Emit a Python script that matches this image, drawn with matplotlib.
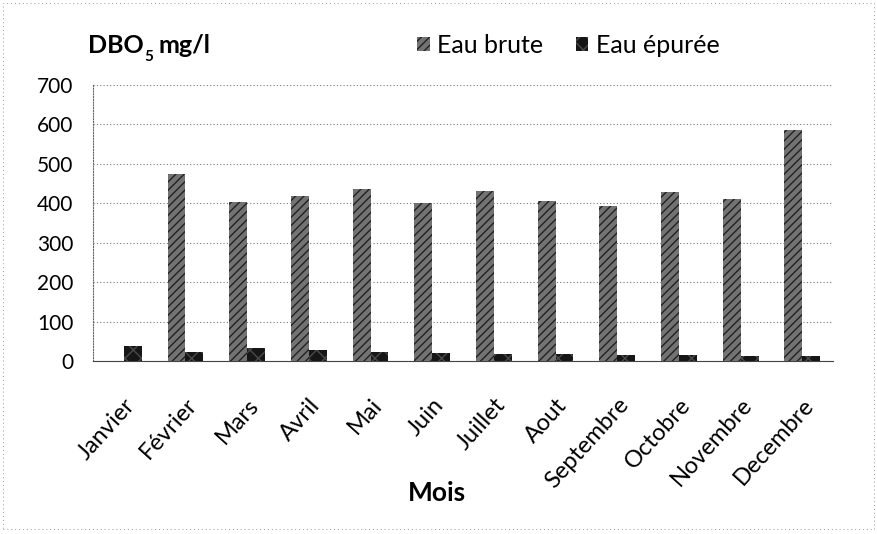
import numpy as np
import matplotlib
matplotlib.use("Agg")
import matplotlib.pyplot as plt

plt.rcParams['font.family'] = ['Lato', 'DejaVu Sans']

# ------------------- DATA -------------------
mois = ['Janvier', 'Février', 'Mars', 'Avril', 'Mai', 'Juin', 'Juillet',
        'Aout', 'Septembre', 'Octobre', 'Novembre', 'Decembre']
eau_brute = [0, 475, 402, 418, 435, 400, 430, 405, 394, 428, 411, 585]
eau_epuree = [38, 22, 33, 28, 22, 20, 17, 17, 16, 15, 13, 12]
y_ticks = [0, 100, 200, 300, 400, 500, 600, 700]
# --------------------------------------------

fig = plt.figure(figsize=(8.77, 5.34), dpi=100)
ax = fig.add_axes([0.106, 0.324, 0.844, 0.517])

x = np.arange(len(mois))
w = 0.29
ax.bar(x - w / 2, eau_brute, w, color='#737373', edgecolor='#222222',
       hatch='////', linewidth=0, label='Eau brute', zorder=3)
ax.bar(x + w / 2, eau_epuree, w, color='#161616', edgecolor='#4a4a4a',
       hatch='xx', linewidth=0, label='Eau épurée', zorder=3)

ax.set_xlim(-0.5, len(mois) - 0.5)
ax.set_ylim(0, 700)
ax.set_yticks(y_ticks)
ax.set_yticklabels([str(v) for v in y_ticks], fontsize=15)
ax.set_xticks(x)
ax.set_xticklabels(mois, rotation=48, ha='right', va='top',
                   rotation_mode='anchor', fontsize=17)
ax.tick_params(axis='x', length=0, pad=24)
ax.tick_params(axis='y', length=0, pad=14)

ax.grid(axis='y', linestyle=(0, (1, 2)), color='#777777', linewidth=0.8, zorder=0)
for s in ['top', 'right']:
    ax.spines[s].set_visible(False)
ax.spines['left'].set_linestyle((0, (1, 1.5)))
ax.spines['left'].set_color('#666666')
ax.spines['bottom'].set_color('#444444')

ax.set_xlabel('Mois', fontsize=19, fontweight='bold', va='center')
ax.xaxis.set_label_coords(0.465, -0.478)

# title DBO5 mg/l, pieces placed one after another
t1 = fig.text(0.100, 0.915, 'DBO', fontsize=18, fontweight='bold', va='center', ha='left')
fig.canvas.draw()
r = fig.canvas.get_renderer()
bb = t1.get_window_extent(r)
t2 = fig.text(bb.x1 / fig.bbox.width + 0.001, 0.893, '5', fontsize=11,
              fontweight='bold', va='center', ha='left')
bb2 = t2.get_window_extent(r)
fig.text(bb2.x1 / fig.bbox.width + 0.006, 0.915, 'mg/l', fontsize=18,
         fontweight='bold', va='center', ha='left')

ax.legend(loc='center', bbox_to_anchor=(0.648, 0.915), bbox_transform=fig.transFigure,
          ncol=2, frameon=False, fontsize=18, handlelength=0.5, handleheight=0.5,
          handletextpad=0.3, columnspacing=1.3)

border = plt.Rectangle((0.003, 0.01), 0.994, 0.985, transform=fig.transFigure,
                       fill=False, linestyle=(0, (1, 3)), edgecolor='#999999',
                       linewidth=0.7)
fig.patches.append(border)

fig.savefig('out.png', dpi=100)
